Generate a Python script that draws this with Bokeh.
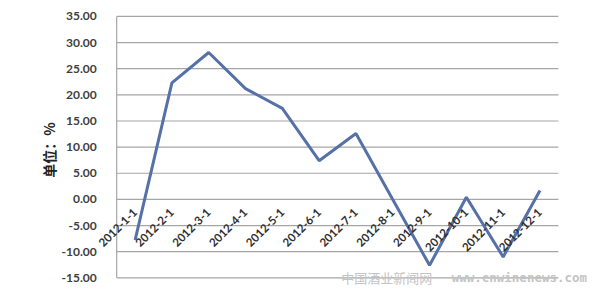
import math
from bokeh.plotting import figure
from bokeh.models import Range1d, FixedTicker, NumeralTickFormatter, Label
from bokeh.embed import file_html
from bokeh.resources import INLINE

categories = ["2012-1-1", "2012-2-1", "2012-3-1", "2012-4-1", "2012-5-1", "2012-6-1",
              "2012-7-1", "2012-8-1", "2012-9-1", "2012-10-1", "2012-11-1", "2012-12-1"]
values = [-7.8, 22.3, 28.1, 21.2, 17.4, 7.4, 12.6, 0.0, -12.6, 0.4, -11.0, 1.7]
y_ticks = [-15, -10, -5, 0, 5, 10, 15, 20, 25, 30, 35]
y_label = "单位：%"
watermark_cn = "中国酒业新闻网"
watermark_en = "www.cnwinenews.com"

n = len(categories)
xpos = [i + 0.5 for i in range(n)]

p = figure(width=600, height=295, output_backend="svg", toolbar_location=None,
           x_range=Range1d(-2.07, n + 1.09), y_range=Range1d(-18, 36.9),
           min_border_left=40, min_border_right=2, min_border_top=6, min_border_bottom=2)
p.outline_line_color = None
p.background_fill_color = "white"
p.border_fill_color = "white"
p.xgrid.grid_line_color = None
p.ygrid.grid_line_color = None

# horizontal gridlines spanning the category area only
p.segment(x0=[0] * len(y_ticks), x1=[n] * len(y_ticks), y0=y_ticks, y1=y_ticks,
          line_color="#a6a6a6", line_width=1.2)
# vertical axis line
p.segment(x0=[0], x1=[0], y0=[y_ticks[0]], y1=[y_ticks[-1]], line_color="#a6a6a6", line_width=1.2)

xax = p.xaxis[0]
xax.fixed_location = 0
xax.ticker = FixedTicker(ticks=xpos)
xax.major_label_overrides = {x: c for x, c in zip(xpos, categories)}
xax.axis_line_color = None
xax.major_tick_line_color = None
xax.minor_tick_line_color = None
xax.major_label_orientation = math.pi / 4
xax.major_label_text_font = "Lato"
xax.major_label_text_font_size = "11.5px"
xax.major_label_text_font_style = "bold"
xax.major_label_text_color = "#303030"
xax.major_label_standoff = 5

yax = p.yaxis[0]
yax.fixed_location = 0
yax.ticker = FixedTicker(ticks=y_ticks)
yax.formatter = NumeralTickFormatter(format="0.00")
yax.major_label_text_font = "Lato"
yax.major_label_text_font_size = "12px"
yax.major_label_text_color = "#404040"
yax.major_label_text_font_style = "bold"
yax.major_label_standoff = 14
yax.major_tick_line_color = None
yax.minor_tick_line_color = None
yax.axis_line_color = None
yax.axis_label = y_label
yax.axis_label_text_font = "Noto Sans CJK SC"
yax.axis_label_text_font_size = "14px"
yax.axis_label_text_font_style = "bold"
yax.axis_label_text_color = "#222222"
yax.axis_label_standoff = -1

p.line(x=xpos, y=values, line_color="#5670a8", line_width=3)

p.add_layout(Label(x=6.1, y=-15, text=watermark_cn, text_font="Noto Sans CJK SC",
                   text_font_size="13px", text_color="#c4c4c4", text_baseline="middle"))
p.add_layout(Label(x=9.1, y=-15, text=watermark_en, text_font="DejaVu Sans Mono",
                   text_font_size="12.5px", text_color="#c4c4c4", text_baseline="middle",
                   text_font_style="bold"))

open("out.html", "w").write(file_html(p, INLINE))
